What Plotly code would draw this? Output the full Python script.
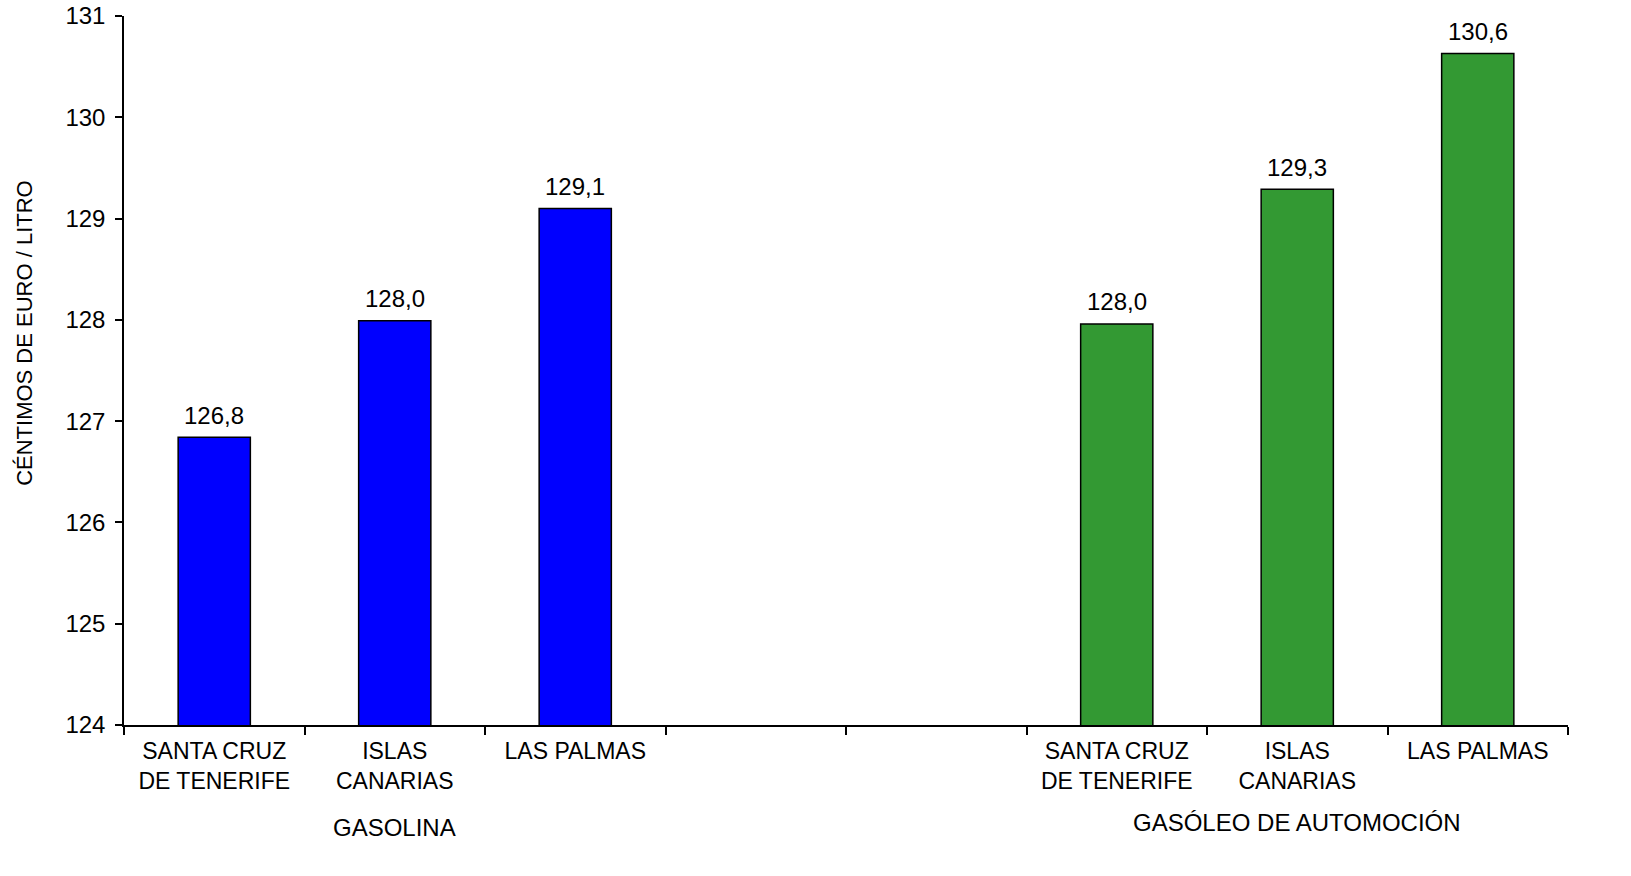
import plotly.graph_objects as go

# Category slots (two empty spacer slots between groups)
slot_keys = ["g1", "g2", "g3", "e1", "e2", "d1", "d2", "d3"]
slot_labels = ["SANTA CRUZ<br>DE TENERIFE", "ISLAS<br>CANARIAS", "LAS PALMAS", "", "",
               "SANTA CRUZ<br>DE TENERIFE", "ISLAS<br>CANARIAS", "LAS PALMAS"]

gasolina_keys = ["g1", "g2", "g3"]
gasolina_values = [126.84, 127.99, 129.10]

gasoleo_keys = ["d1", "d2", "d3"]
gasoleo_values = [127.96, 129.29, 130.63]

group_labels = ["GASOLINA", "GASÓLEO DE AUTOMOCIÓN"]
group_centers = ["g2", "d2"]

y_ticks = [124, 125, 126, 127, 128, 129, 130, 131]
y_title = "CÉNTIMOS DE EURO / LITRO"

FONT = "Liberation Sans, Arial, sans-serif"

fig = go.Figure()
for keys, vals, color in [(gasolina_keys, gasolina_values, "#0000FF"),
                          (gasoleo_keys, gasoleo_values, "#339933")]:
    fig.add_trace(go.Bar(
        x=keys, y=vals, width=0.4,
        marker=dict(color=color, line=dict(color="black", width=1.5)),
        showlegend=False, hoverinfo="x+y",
    ))
    for k, v in zip(keys, vals):
        fig.add_annotation(x=k, y=v, xref="x", yref="y",
                           text=f"{v:.1f}".replace(".", ","), showarrow=False,
                           yanchor="middle", yshift=22,
                           font=dict(size=24, family=FONT, color="black"))

fig.update_layout(
    width=1631, height=876,
    autosize=False,
    margin=dict(l=124, r=63, t=16, b=151, autoexpand=False),
    paper_bgcolor="white", plot_bgcolor="white",
    separators=",.",
    font=dict(family=FONT, size=24, color="black"),
    barmode="overlay",
    xaxis=dict(
        type="category", categoryorder="array", categoryarray=slot_keys,
        tickmode="array", tickvals=slot_keys, ticktext=slot_labels,
        tickson="boundaries", ticks="outside", ticklen=8, tickwidth=1.5, tickcolor="black",
        showline=True, linecolor="black", linewidth=1.5,
        showgrid=False, range=[-0.5, 7.5], automargin=False,
        tickfont=dict(size=23, family=FONT), ticklabelstandoff=5,
    ),
    yaxis=dict(
        range=[124, 131], tickvals=y_ticks,
        ticks="outside", ticklen=7, tickwidth=1.5, tickcolor="black",
        showline=True, linecolor="black", linewidth=1.5,
        showgrid=False, zeroline=False, automargin=False,
        tickfont=dict(size=24, family=FONT), ticklabelstandoff=5,
    ),
)

fig.add_annotation(x=-0.0686, y=0.553, xref="paper", yref="paper", text=y_title,
                   textangle=-90, showarrow=False, xanchor="center", yanchor="middle",
                   font=dict(size=22, family=FONT, color="black"))

for lbl, key, yy in zip(group_labels, group_centers, [-0.145, -0.137]):
    fig.add_annotation(x=key, y=yy, xref="x", yref="paper", text=lbl, showarrow=False,
                       font=dict(size=24, family=FONT, color="black"), yanchor="middle")

fig.write_html("out.html", config={"displayModeBar": False},
               post_script="document.body.style.margin='0';document.body.style.overflow='hidden';")
